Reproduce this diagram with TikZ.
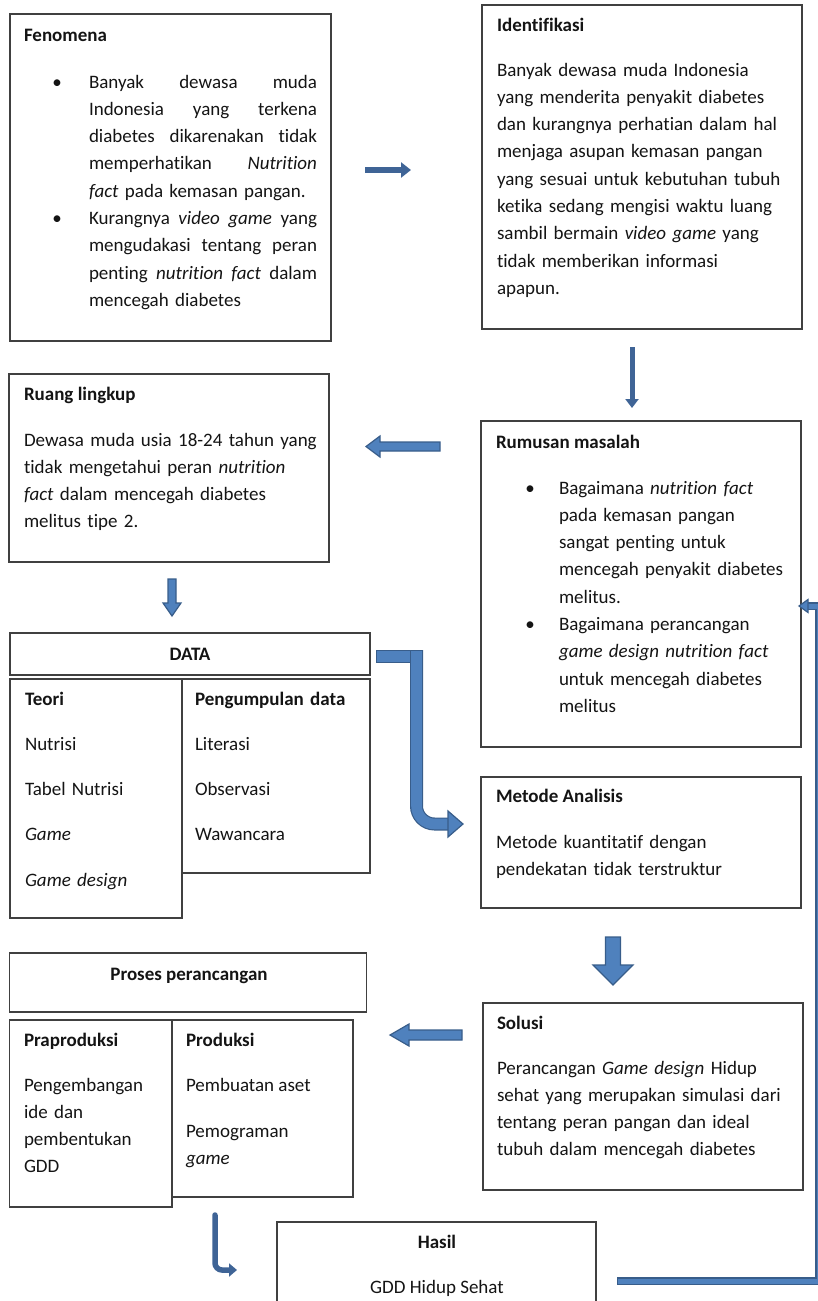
\documentclass[tikz,border=0pt]{standalone}
\usepackage{fontspec}
\setmainfont{Carlito}[Ligatures=NoCommon]
\usetikzlibrary{arrows.meta}

\definecolor{boxline}{HTML}{404040}
\definecolor{textcol}{HTML}{141414}
\definecolor{arrowfill}{HTML}{4F81BD}
\definecolor{arrowline}{HTML}{385D8A}
\definecolor{thinblue}{HTML}{3F6496}

\tikzset{
  box/.style={draw=boxline, line width=1.3pt, anchor=north west, inner sep=0pt, outer sep=0pt},
  txt/.style={inner sep=0pt, outer sep=0pt, anchor=base west, text=textcol,
    font=\fontsize{19}{27.3}\selectfont},
  blk/.style={draw=arrowline, fill=arrowfill, line width=1.2pt, line join=miter},
  thinarrow/.style={draw=thinblue, line width=6pt, -{Triangle[length=10pt,width=15pt]}},
  bendout/.style={draw=arrowline, line width=13pt, line cap=rect, line join=miter},
  bendin/.style={draw=arrowfill, line width=10.6pt, line cap=rect, line join=miter},
  fbout/.style={draw=arrowline, line width=7.5pt, line cap=rect, line join=miter},
  fbin/.style={draw=arrowfill, line width=5pt, line cap=rect, line join=miter}
}

\begin{document}
\begin{tikzpicture}[x=1pt,y=-1pt]
  \path[use as bounding box, clip] (0,0) rectangle (818,1301);

  % boxes
  \path (10,14) node[box, minimum width=321, minimum height=327] (fen) {};
  \path (482,5) node[box, minimum width=320, minimum height=324] (ident) {};
  \path (9,374) node[box, minimum width=320, minimum height=188] (ruang) {};
  \path (481,421) node[box, minimum width=320, minimum height=326] (rumusan) {};
  \path (10,633) node[box, minimum width=360, minimum height=42] (data) {};
  \path (10,679) node[box, minimum width=172, minimum height=239] (teori) {};
  \path (182,679) node[box, minimum width=188, minimum height=194] (kumpul) {};
  \path (481,777) node[box, minimum width=320, minimum height=131] (metode) {};
  \path (483,1003) node[box, minimum width=320, minimum height=187] (solusi) {};
  \path (9.5,953) node[box, minimum width=357, minimum height=59] (proses) {};
  \path (9.5,1020) node[box, minimum width=162.5, minimum height=187] (prapro) {};
  \path (172,1020) node[box, minimum width=181, minimum height=177] (produksi) {};
  \path (277,1222) node[box, minimum width=319, minimum height=120] (hasil) {};

  % Fenomena
  \path (24,41) node[txt] (fent) {\textbf{Fenomena}};
  \path (57,88) node[txt, anchor=base] (fenb1) {\textbullet};
  \path (57,224.5) node[txt, anchor=base] (fenb2) {\textbullet};
  \path (89,88) node[txt, text width=228] (fenx) {%
    \makebox[228pt][s]{Banyak\hfill dewasa\hfill muda}\\
    \makebox[228pt][s]{Indonesia\hfill yang\hfill terkena}\\
    \makebox[228pt][s]{diabetes\hfill dikarenakan\hfill tidak}\\
    \makebox[228pt][s]{memperhatikan\hfill\textit{Nutrition}}\\
    \textit{fact} pada kemasan pangan.\\
    \makebox[228pt][s]{Kurangnya\hfill\textit{video}\hfill\textit{game}\hfill yang}\\
    \makebox[228pt][s]{mengudakasi\hfill tentang\hfill peran}\\
    \makebox[228pt][s]{penting\hfill\textit{nutrition}\hfill\textit{fact}\hfill dalam}\\
    mencegah diabetes};

  % Identifikasi
  \path (497,31) node[txt] (identt) {\textbf{Identifikasi}};
  \path (497,76) node[txt, text width=300, align=left] (identx) {Banyak dewasa muda Indonesia\\
    yang menderita penyakit diabetes\\
    dan kurangnya perhatian dalam hal\\
    menjaga asupan kemasan pangan\\
    yang sesuai untuk kebutuhan tubuh\\
    ketika sedang mengisi waktu luang\\
    sambil bermain \textit{video game} yang\\
    tidak memberikan informasi\\
    apapun.};

  % Ruang lingkup
  \path (24,400) node[txt] (ruangt) {\textbf{Ruang lingkup}};
  \path (24,446) node[txt, text width=340, align=left] (ruangx) {Dewasa muda usia 18-24 tahun yang\\
    tidak mengetahui peran \textit{nutrition}\\
    \textit{fact} dalam mencegah diabetes\\
    melitus tipe 2.};

  % Rumusan masalah
  \path (496,448) node[txt] (rumt) {\textbf{Rumusan masalah}};
  \path (530,494) node[txt, anchor=base] (rumb1) {\textbullet};
  \path (530,630.5) node[txt, anchor=base] (rumb2) {\textbullet};
  \path (559,494) node[txt, text width=250, align=left] (rumx) {Bagaimana \textit{nutrition fact}\\
    pada kemasan pangan\\
    sangat penting untuk\\
    mencegah penyakit diabetes\\
    melitus.\\
    Bagaimana perancangan\\
    \textit{game design nutrition fact}\\
    untuk mencegah diabetes\\
    melitus};

  % Data
  \path (190,660) node[txt, anchor=base] (datat) {\textbf{DATA}};
  \path (25,705) node[txt, text width=150, align=left, font=\fontsize{19}{45.3}\selectfont] (teorix)
    {\textbf{Teori}\\ Nutrisi\\ Tabel Nutrisi\\ \textit{Game}\\ \textit{Game design}};
  \path (195,705) node[txt, text width=170, align=left, font=\fontsize{19}{45.3}\selectfont] (kumpulx)
    {\textbf{Pengumpulan data}\\ Literasi\\ Observasi\\ Wawancara};

  % Metode Analisis
  \path (496,802) node[txt] (metodet) {\textbf{Metode Analisis}};
  \path (496,848) node[txt, text width=300, align=left] (metodex) {Metode kuantitatif dengan\\
    pendekatan tidak terstruktur};

  % Solusi
  \path (497,1029) node[txt] (solusit) {\textbf{Solusi}};
  \path (497,1074) node[txt, text width=300, align=left] (solusix) {Perancangan \textit{Game design} Hidup\\
    sehat yang merupakan simulasi dari\\
    tentang peran pangan dan ideal\\
    tubuh dalam mencegah diabetes};

  % Proses perancangan
  \path (189,980) node[txt, anchor=base] (prosest) {\textbf{Proses perancangan}};
  \path (24,1046) node[txt] (praprot) {\textbf{Praproduksi}};
  \path (24,1091) node[txt, text width=145, align=left] (praprox) {Pengembangan\\ ide dan\\ pembentukan\\ GDD};
  \path (186,1046) node[txt] (produksit) {\textbf{Produksi}};
  \path (186,1091) node[txt] (produksia) {Pembuatan aset};
  \path (186,1137) node[txt, text width=160, align=left] (produksib) {Pemograman\\ \textit{game}};

  % Hasil
  \path (437,1248) node[txt, anchor=base] (hasilt) {\textbf{Hasil}};
  \path (437,1293) node[txt, anchor=base] (hasilx) {GDD Hidup Sehat};

  % arrows
  \coordinate (a1s) at (365,170);
  \coordinate (a1e) at (411,170);
  \draw[thinarrow] (a1s) -- (a1e);

  \coordinate (a2s) at (632,347);
  \coordinate (a2e) at (632,408);
  \draw[thinarrow, line width=5pt, -{Triangle[length=9pt,width=13pt]}] (a2s) -- (a2e);

  \coordinate (a3s) at (440,446.5);
  \coordinate (a3e) at (366,446.5);
  \draw[blk] (a3s) ++(0,-4.5) -- ++(-60,0) -- ++(0,-6) -- (a3e) -- ++(14,10.5) -- ++(0,-6) -- ++(60,0) -- cycle;

  \coordinate (a4s) at (172,579);
  \coordinate (a4e) at (172,616);
  \draw[blk] (a4s) ++(-4,0) -- ++(0,24) -- ++(-5,0) -- (a4e) -- ++(9,-13) -- ++(-5,0) -- ++(0,-24) -- cycle;

  \coordinate (a5a) at (382.5,656.5);
  \coordinate (a5b) at (416.5,656.5);
  \coordinate (a5e) at (448,824);
  \coordinate (a5t) at (463,824);
  \draw[bendout] (a5a) -- (a5b);
  \draw[bendin] (a5a) -- (a5b);
  \draw[bendout, rounded corners=18] (a5b) |- (a5e);
  \draw[bendin, rounded corners=18] (a5b) |- (a5e);
  \draw[blk] (a5t) -- ++(-15,-13) -- ++(0,26) -- cycle;

  \coordinate (a6s) at (613,937);
  \coordinate (a6e) at (613,985);
  \draw[blk] (a6s) ++(-7.5,0) -- ++(0,28) -- ++(-12.5,0) -- (a6e) -- ++(20,-20) -- ++(-12.5,0) -- ++(0,-28) -- cycle;

  \coordinate (a7s) at (462,1035);
  \coordinate (a7e) at (390,1035);
  \draw[blk] (a7s) ++(0,-5) -- ++(-53,0) -- ++(0,-6) -- (a7e) -- ++(19,11) -- ++(0,-6) -- ++(53,0) -- cycle;

  \coordinate (a8s) at (215,1215);
  \coordinate (a8e) at (237,1270);
  \draw[thinarrow, line width=5.5pt, line cap=round, rounded corners=7, -{Triangle[length=8pt,width=13pt]}] (a8s) |- (a8e);

  \coordinate (a9s) at (620.5,1281);
  \coordinate (fbk) at (819,606);
  \coordinate (a9e) at (809,606);
  \coordinate (a9t) at (799,606);
  \draw[fbout] (a9s) -| (fbk) -- (a9e);
  \draw[fbin] (a9s) -| (fbk) -- (a9e);
  \draw[blk] (a9t) -- ++(9,-6.5) -- ++(0,13) -- cycle;
\end{tikzpicture}
\end{document}
